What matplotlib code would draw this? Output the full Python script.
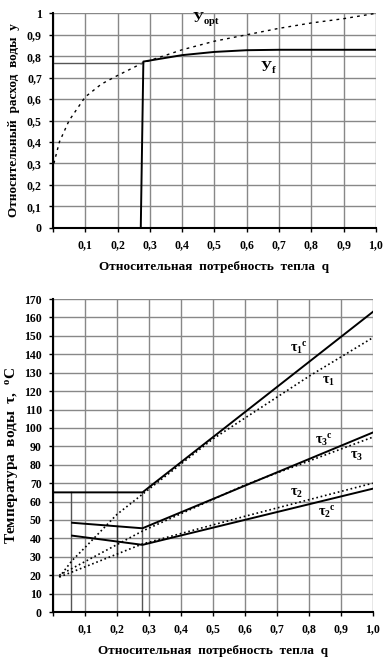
import matplotlib.pyplot as plt

plt.rcParams['font.family'] = ['Liberation Serif', 'DejaVu Serif']
plt.rcParams['font.weight'] = 'bold'
plt.rcParams['mathtext.fontset'] = 'custom'
plt.rcParams['mathtext.rm'] = 'Liberation Serif:bold'
plt.rcParams['mathtext.it'] = 'Liberation Serif:bold'
plt.rcParams['mathtext.bf'] = 'Liberation Serif:bold'

# --- upper chart: relative water flow y vs relative heat demand q
q_opt = [0.003, 0.02, 0.05, 0.1, 0.15, 0.2, 0.28, 0.35, 0.4, 0.5, 0.6, 0.7, 0.8, 0.9, 1.0]
y_opt = [0.30, 0.40, 0.50, 0.61, 0.67, 0.71, 0.77, 0.805, 0.83, 0.87, 0.90, 0.93, 0.955, 0.975, 1.0]
q_f = [0.272, 0.28, 0.4, 0.5, 0.6, 0.7, 0.8, 1.0]
y_f = [0.0, 0.775, 0.805, 0.82, 0.828, 0.83, 0.83, 0.83]

# --- lower chart: water temperatures
q_t1c = [0.0, 0.28, 1.0]
t1c = [65, 65, 163]
q_t1 = [0.02, 0.06, 0.1, 0.2, 0.28, 0.5, 0.8, 1.0]
t1 = [19, 28, 35, 53, 64, 94, 128, 149]
q_t3c = [0.06, 0.28, 1.0]
t3c = [48.5, 45.5, 97.5]
q_t3 = [0.02, 0.28, 0.6, 0.8, 1.0]
t3 = [20, 44, 69, 82, 95]
q_t2c = [0.06, 0.28, 1.0]
t2c = [41.5, 36.5, 67]
q_t2 = [0.02, 0.28, 0.6, 1.0]
t2 = [19, 37, 52, 70]

xticks = [i / 10 for i in range(11)]
xlabels = [''] + ['%.1f' % v for v in xticks[1:]]
xlabels = [s.replace('.', ',') for s in xlabels]

fig = plt.figure(figsize=(3.92, 6.66), dpi=100)
grid_kw = dict(color='#888888', linewidth=1.0)

# upper
ax1 = fig.add_axes([0.135, 0.658, 0.824, 0.322])
ax1.set_xlim(0, 1)
ax1.set_ylim(0, 1)
ax1.set_xticks(xticks)
ax1.set_xticklabels(xlabels, fontsize=8.5)
yt = [i / 10 for i in range(11)]
ax1.set_yticks(yt)
ax1.set_yticklabels(['0'] + [('%.1f' % v).replace('.', ',') for v in yt[1:-1]] + ['1'], fontsize=8.5)
ax1.grid(True, **grid_kw)
ax1.tick_params(length=3, width=1, pad=5)
for s in ['top', 'right']:
    ax1.spines[s].set_visible(False)
for s in ['left', 'bottom']:
    ax1.spines[s].set_linewidth(1.5)
ax1.plot(q_opt, y_opt, color='black', linestyle=(0, (2, 3)), linewidth=1)
ax1.plot([0, 0.28], [0.77, 0.77], color='#555555', linewidth=1)
ax1.plot(q_f, y_f, color='black', linewidth=1.4)
ax1.text(0.43, 0.955, 'У$_{\\mathrm{opt}}$', fontsize=11, fontweight='bold')
ax1.text(0.64, 0.725, 'У$_{\\mathrm{f}}$', fontsize=11, fontweight='bold')
ax1.set_xlabel('Относительная  потребность  тепла  q', fontsize=9.5, fontweight='bold', labelpad=7)
ax1.set_ylabel('Относительный  расход  воды  у', fontsize=9.5, fontweight='bold', labelpad=5)

# lower
ax2 = fig.add_axes([0.135, 0.081, 0.816, 0.470])
ax2.set_xlim(0, 1)
ax2.set_ylim(0, 170)
ax2.set_xticks(xticks)
ax2.set_xticklabels(xlabels, fontsize=8.5)
ax2.set_yticks(range(0, 171, 10))
ax2.set_yticklabels([str(v) for v in range(0, 171, 10)], fontsize=8.5)
ax2.grid(True, **grid_kw)
ax2.tick_params(length=3, width=1, pad=5)
for s in ['top', 'right']:
    ax2.spines[s].set_visible(False)
for s in ['left', 'bottom']:
    ax2.spines[s].set_linewidth(1.5)
ax2.plot([0.055, 0.055], [0, 65], color='#555555', linewidth=1)
ax2.plot([0.28, 0.28], [0, 65], color='#555555', linewidth=1)
ax2.plot([0.2, 0.2], [30, 47], color='#333333', linewidth=1)
ax2.plot(q_t1c, t1c, color='black', linewidth=1.4)
ax2.plot(q_t3c, t3c, color='black', linewidth=1.4)
ax2.plot(q_t2c, t2c, color='black', linewidth=1.4)
ax2.plot(q_t1, t1, color='black', linestyle=':', linewidth=1.2)
ax2.plot(q_t3, t3, color='black', linestyle=':', linewidth=1.2)
ax2.plot(q_t2, t2, color='black', linestyle=':', linewidth=1.2)
ax2.text(0.74, 141, 'τ$_1$$^c$', fontsize=10)
ax2.text(0.84, 124, 'τ$_1$', fontsize=10)
ax2.text(0.82, 91, 'τ$_3$$^c$', fontsize=10)
ax2.text(0.93, 83, 'τ$_3$', fontsize=10)
ax2.text(0.74, 63, 'τ$_2$', fontsize=10)
ax2.text(0.83, 52, 'τ$_2$$^c$', fontsize=10)
ax2.set_xlabel('Относительная  потребность  тепла  q', fontsize=9.5, fontweight='bold', labelpad=7)
ax2.set_ylabel('Температура  воды  τ,  $^o$C', fontsize=11, fontweight='bold', labelpad=3)

fig.savefig('out.png', dpi=100)
